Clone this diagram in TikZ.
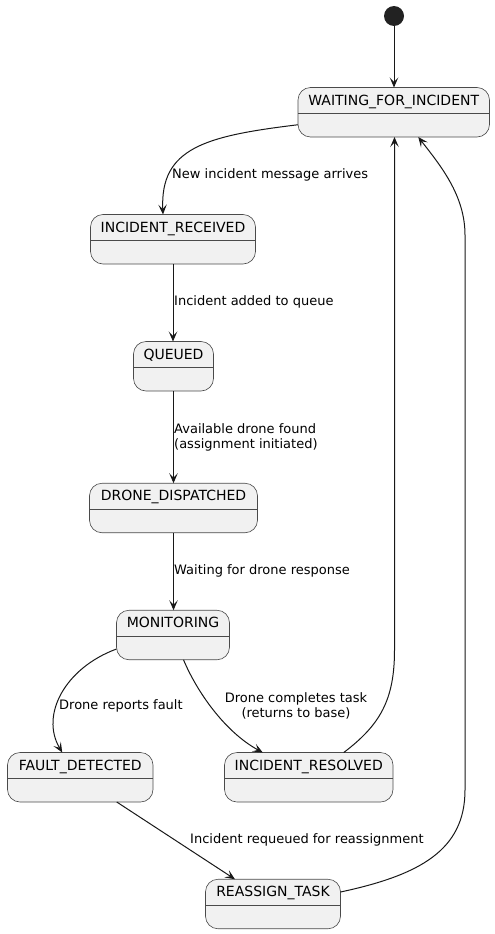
\documentclass[tikz,border=0pt]{standalone}
\usepackage{fontspec}
\setmainfont{DejaVu Sans}
\usetikzlibrary{arrows.meta}
\definecolor{boxfill}{HTML}{F1F1F1}
\definecolor{boxline}{HTML}{4A4A4A}
\definecolor{ink}{HTML}{181818}
\definecolor{startfill}{HTML}{222222}
\newcommand\mystate[5]{%
  \node[statebox, minimum width=#4] (#1) at (#2,#3) {};
  \draw[divider] ([yshift=-26pt]#1.north west) -- ([yshift=-26pt]#1.north east);
  \node[statelabel] (#1-t) at ([yshift=-17.5pt]#1.north) {#5};
}
\begin{document}
\begin{tikzpicture}[x=1pt,y=-1pt,
  statebox/.style={draw=boxline, line width=0.6pt, fill=boxfill, rounded corners=12.5pt,
    minimum height=49.5pt, inner sep=0pt, outer sep=0pt},
  divider/.style={draw=boxline, line width=0.6pt},
  statelabel/.style={anchor=base, inner sep=0pt, font=\fontsize{14}{16}\selectfont},
  edge/.style={draw=ink, line width=1pt, -{Stealth[length=10pt,width=8.5pt,inset=4.5pt]}},
  elabel/.style={inner sep=0pt, font=\fontsize{13}{15}\selectfont, text=black}
]
\useasboundingbox (0,0) rectangle (495,934);

\node[circle, fill=startfill, minimum size=20pt, inner sep=0pt] (start) at (394,16) {};

\mystate{wait}{393.75}{112.25}{191.5}{WAITING\_FOR\_INCIDENT}
\mystate{recv}{173}{239.25}{165}{INCIDENT\_RECEIVED}
\mystate{queued}{173.5}{366.25}{80}{QUEUED}
\mystate{disp}{173.5}{508}{168}{DRONE\_DISPATCHED}
\mystate{mon}{173}{635}{113}{MONITORING}
\mystate{fault}{80.25}{777.25}{145.5}{FAULT\_DETECTED}
\mystate{resolved}{308.75}{777.25}{168.5}{INCIDENT\_RESOLVED}
\mystate{reassign}{273}{904}{135}{REASSIGN\_TASK}

% edges
\draw[edge] (start) -- (start |- wait.north);
\draw[edge] ([yshift=-12.5pt]wait.west) .. controls (205,136) and (160,148) .. ([xshift=-10pt]recv.north);
\draw[edge] (recv.south) -- (recv.south |- queued.north);
\draw[edge] (queued.south) -- (queued.south |- disp.north);
\draw[edge] (disp.south) -- (disp.south |- mon.north);
\draw[edge] ([yshift=-14pt]mon.west) .. controls (65,668) and (40,715) .. ([xshift=-18pt]fault.north);
\draw[edge] ([xshift=10.5pt]mon.south) .. controls (197,692) and (225,732) .. ([xshift=-46pt]resolved.north);
\draw[edge] ([xshift=35pt]resolved.north) .. controls (380,725) and (394.5,700) .. (394.5,650) -- (394.5,137);
\draw[edge] ([yshift=12pt]reassign.east) .. controls (420,875) and (465,850) .. (465,790) -- (465,235) .. controls (465,195) and (440,165) .. ([xshift=24.5pt]wait.south);
\draw[edge] ([xshift=36.5pt]fault.south) -- ([xshift=-38pt]reassign.north);

% edge labels
\node[elabel, anchor=west] (l1) at (172,175) {New incident message arrives};
\node[elabel, anchor=west] (l2) at (174,302) {Incident added to queue};
\node[elabel, anchor=west, align=left] (l3) at (174,437) {Available drone found\\(assignment initiated)};
\node[elabel, anchor=west] (l4) at (174,571) {Waiting for drone response};
\node[elabel, anchor=west] (l5) at (59,706) {Drone reports fault};
\node[elabel, align=center] (l6) at (296,705.5) {Drone completes task\\(returns to base)};
\node[elabel, anchor=west] (l7) at (190,840) {Incident requeued for reassignment};
\end{tikzpicture}
\end{document}
